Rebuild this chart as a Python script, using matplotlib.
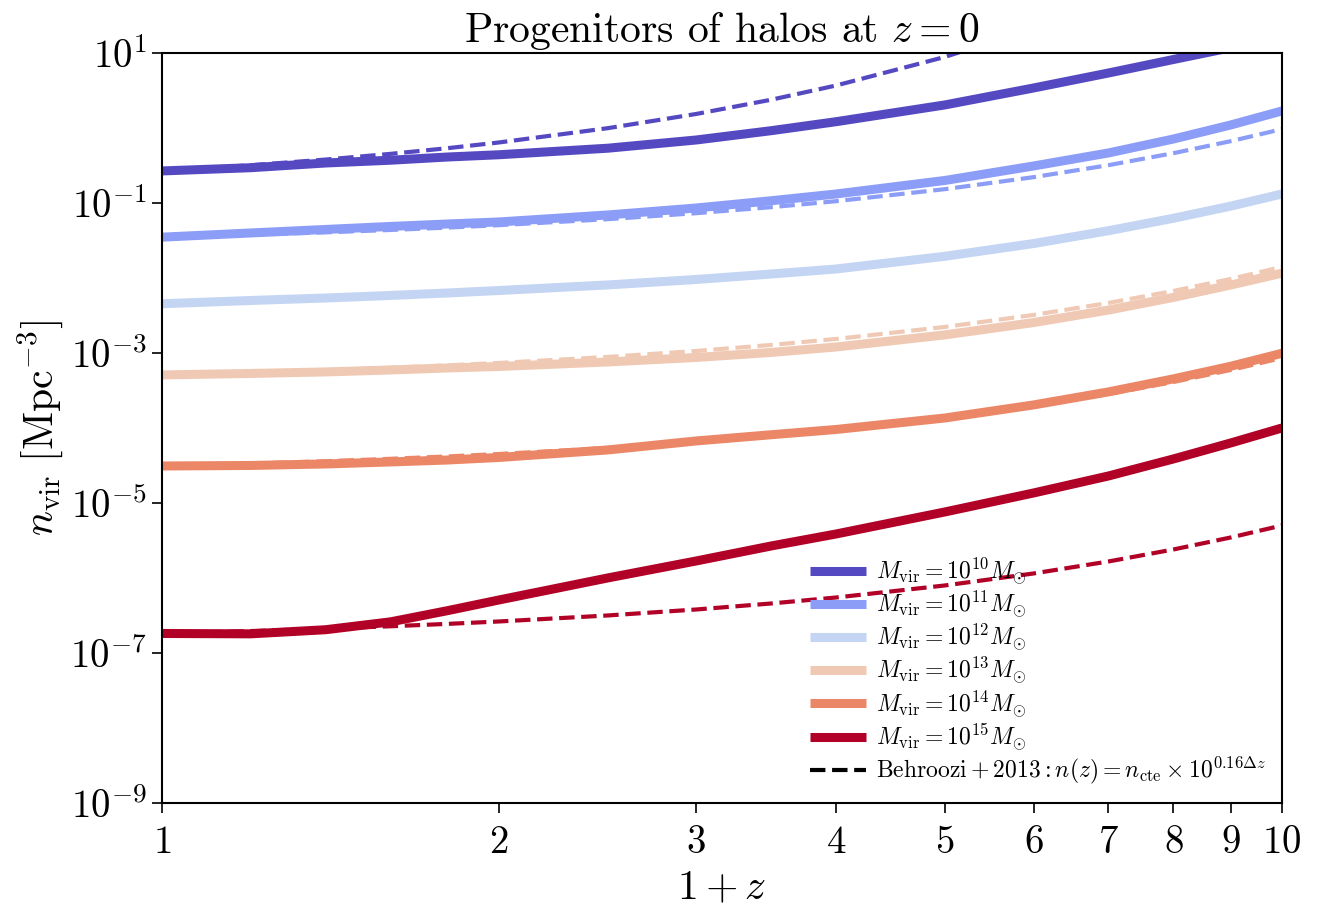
import numpy as np
import matplotlib
matplotlib.use("Agg")
import matplotlib.pyplot as plt
from matplotlib.lines import Line2D
from matplotlib.ticker import FixedLocator, FixedFormatter, NullLocator

plt.rcParams['mathtext.fontset'] = 'cm'
plt.rcParams['font.family'] = 'serif'
plt.rcParams['font.serif'] = ['cmr10', 'DejaVu Serif']
plt.rcParams['axes.formatter.use_mathtext'] = True

# ---- data ----
one_plus_z = [1.0, 1.2, 1.4, 1.6, 1.8, 2.0, 2.5, 3.0, 3.5, 4.0, 5.0, 6.0, 7.0, 8.0, 9.0, 10.0]

masses = ["10", "11", "12", "13", "14", "15"]
colors = ["#5549c2", "#8c9df8", "#c4d5f3", "#f0c9b5", "#eb8767", "#b10127"]

# log10 n_vir for solid curves
log_n_1e10 = [-0.573, -0.53, -0.467, -0.43, -0.387, -0.357, -0.27, -0.16, -0.036, 0.084,
              0.307, 0.533, 0.733, 0.913, 1.07, 1.23]
log_n_1e11 = [-1.456, -1.40, -1.353, -1.313, -1.28, -1.253, -1.16, -1.067, -0.97, -0.88,
              -0.70, -0.507, -0.333, -0.147, 0.04, 0.227]
log_n_1e12 = [-2.344, -2.30, -2.267, -2.233, -2.20, -2.167, -2.093, -2.02, -1.947, -1.88,
              -1.711, -1.541, -1.370, -1.204, -1.042, -0.88]
log_n_1e13 = [-3.293, -3.273, -3.253, -3.227, -3.20, -3.18, -3.12, -3.06, -2.993, -2.92,
              -2.759, -2.595, -2.428, -2.259, -2.094, -1.936]
log_n_1e14 = [-4.507, -4.50, -4.48, -4.453, -4.427, -4.393, -4.293, -4.173, -4.09, -4.02,
              -3.867, -3.693, -3.519, -3.345, -3.177, -3.004]
log_n_1e15 = [-6.74, -6.745, -6.69, -6.585, -6.435, -6.293, -6.0, -5.773, -5.573, -5.413,
              -5.12, -4.867, -4.64, -4.413, -4.2, -4.0]

# log10 n for Behroozi+2013 dashed curves (None = no dashed curve)
log_b_1e10 = [-0.573, -0.497, -0.421, -0.345, -0.269, -0.193, -0.003, 0.187, 0.377, 0.567,
              0.947, 1.327, None, None, None, None]
log_b_1e11 = [-1.456, -1.424, -1.392, -1.360, -1.328, -1.296, -1.216, -1.136, -1.056, -0.976,
              -0.816, -0.656, -0.496, -0.336, -0.176, -0.016]
log_b_1e13 = [-3.293, -3.261, -3.229, -3.197, -3.165, -3.133, -3.053, -2.973, -2.893, -2.813,
              -2.653, -2.493, -2.333, -2.173, -2.013, -1.853]
log_b_1e14 = [-4.507, -4.475, -4.443, -4.411, -4.379, -4.347, -4.267, -4.187, -4.107, -4.027,
              -3.867, -3.707, -3.547, -3.387, -3.227, -3.067]
log_b_1e15 = [-6.74, -6.708, -6.676, -6.644, -6.612, -6.58, -6.5, -6.42, -6.34, -6.26,
              -6.1, -5.94, -5.78, -5.62, -5.46, -5.30]

solid = [log_n_1e10, log_n_1e11, log_n_1e12, log_n_1e13, log_n_1e14, log_n_1e15]
dashed = [log_b_1e10, log_b_1e11, None, log_b_1e13, log_b_1e14, log_b_1e15]

x_ticks = [1, 2, 3, 4, 5, 6, 7, 8, 9, 10]
y_ticks = [1e-9, 1e-7, 1e-5, 1e-3, 1e-1, 1e1]
y_tick_labels = [r'$10^{-9}$', r'$10^{-7}$', r'$10^{-5}$', r'$10^{-3}$', r'$10^{-1}$', r'$10^{1}$']

# ---- plot ----
fig = plt.figure(figsize=(13.2, 9.07), dpi=100)
ax = fig.add_axes([0.1227, 0.1147, 0.8485, 0.8269])

x = np.array(one_plus_z)
handles = []
for m, c, s, d in zip(masses, colors, solid, dashed):
    h, = ax.plot(x, 10 ** np.array(s), color=c, lw=6.5, solid_capstyle='butt',
                 solid_joinstyle='round',
                 label=r'$M_{\mathrm{vir}} = 10^{%s} M_{\odot}$' % m)
    handles.append(h)
    if d is not None:
        xd = [xi for xi, v in zip(one_plus_z, d) if v is not None]
        yd = [10 ** v for v in d if v is not None]
        ax.plot(xd, yd, color=c, lw=3, ls='--')

handles.append(Line2D([], [], color='black', lw=3, ls='--',
                      label=r'$\mathrm{Behroozi} + 2013: n(z) = n_{\mathrm{cte}} \times 10^{0.16\Delta z}$'))

ax.set_xscale('log')
ax.set_yscale('log')
ax.set_xlim(1, 10)
ax.set_ylim(1e-9, 1e1)

ax.xaxis.set_major_locator(FixedLocator(x_ticks))
ax.xaxis.set_major_formatter(FixedFormatter([r'$%d$' % t for t in x_ticks]))
ax.xaxis.set_minor_locator(NullLocator())
ax.yaxis.set_major_locator(FixedLocator(y_ticks))
ax.yaxis.set_major_formatter(FixedFormatter(y_tick_labels))
ax.yaxis.set_minor_locator(NullLocator())
ax.tick_params(axis='both', which='major', labelsize=28, length=7, width=1.2, direction='out')
ax.tick_params(axis='x', pad=9)
for sp in ax.spines.values():
    sp.set_linewidth(1.5)

ax.set_xlabel(r'$1+z$', fontsize=30, labelpad=6)
ax.set_ylabel(r'$n_{\mathrm{vir}}\ [\mathrm{Mpc}^{-3}]$', fontsize=30)
ax.set_title(r'Progenitors of halos at $z=0$', fontsize=30, pad=8)

ax.legend(handles=handles, loc='lower right', frameon=False, fontsize=17,
          handlelength=2.37, handletextpad=0.42, labelspacing=0.08, borderaxespad=0.3)

fig.savefig('out.png', dpi=100)
